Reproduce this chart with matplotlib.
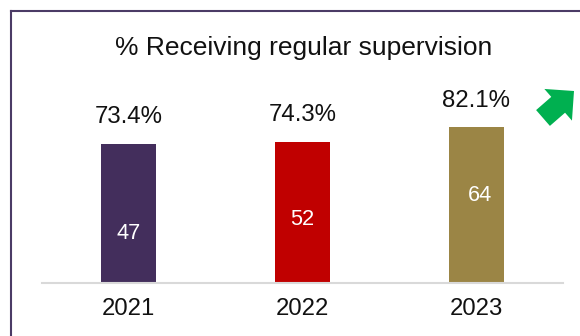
import matplotlib
matplotlib.use("Agg")
import matplotlib.pyplot as plt
from matplotlib.patches import FancyArrow
from matplotlib.lines import Line2D

plt.rcParams['font.family'] = ['Liberation Sans', 'DejaVu Sans']

# data
years = ['2021', '2022', '2023']
pct_supervised = [73.4, 74.3, 82.1]
counts = [47, 52, 64]

bar_colors = ['#432e5c', '#c00000', '#9b8545']
# heights (in % units) where the count labels sit inside each bar
count_label_y = [26.3, 33.2, 46.3]

fig = plt.figure(figsize=(5.8, 3.36), dpi=100)
ax = fig.add_axes([42 / 580, 53 / 336, 521 / 580, 190 / 336])

x = list(range(len(years)))
bars = ax.bar(x, pct_supervised, width=0.317, color=bar_colors)

for xi, v in zip(x, pct_supervised):
    ax.annotate(f'{v:.1f}%', (xi, v), xytext=(0, 19), textcoords='offset points',
                ha='center', va='center', fontsize=17.3, color='#111111')

for xi, c, ly in zip(x, counts, count_label_y):
    ax.text(xi + (0.02 if xi == 2 else 0), ly, str(c), ha='center', va='center',
            fontsize=15.7, color='white')

ax.set_xlim(-0.5, 2.5)
ax.set_ylim(0, 100)
ax.set_xticks(x)
ax.set_xticklabels(years, fontsize=17.2, color='#111111')
ax.tick_params(axis='x', length=0, pad=11)
ax.set_yticks([])
for s in ['top', 'left', 'right']:
    ax.spines[s].set_visible(False)
ax.spines['bottom'].set_color('#d9d9d9')
ax.spines['bottom'].set_linewidth(1.5)

fig.text(304 / 580, 1 - 48 / 336, '% Receiving regular supervision',
         ha='center', va='center', fontsize=19, color='#111111')

# frame: top and left edges only
frame_col = '#4b3b66'
fig.add_artist(Line2D([11 / 580, 1], [1 - 11 / 336, 1 - 11 / 336], color=frame_col,
                      lw=1.5, transform=fig.transFigure))
fig.add_artist(Line2D([11 / 580, 11 / 580], [0, 1 - 11 / 336], color=frame_col,
                      lw=1.5, transform=fig.transFigure))

# green trend arrow
arrow = FancyArrow(5.43, 2.18, 0.31, 0.27, width=0.21, head_width=0.42,
                   head_length=0.21, length_includes_head=True,
                   color='#00b050', lw=0, transform=fig.dpi_scale_trans)
fig.add_artist(arrow)

fig.savefig('out.png', dpi=100)
